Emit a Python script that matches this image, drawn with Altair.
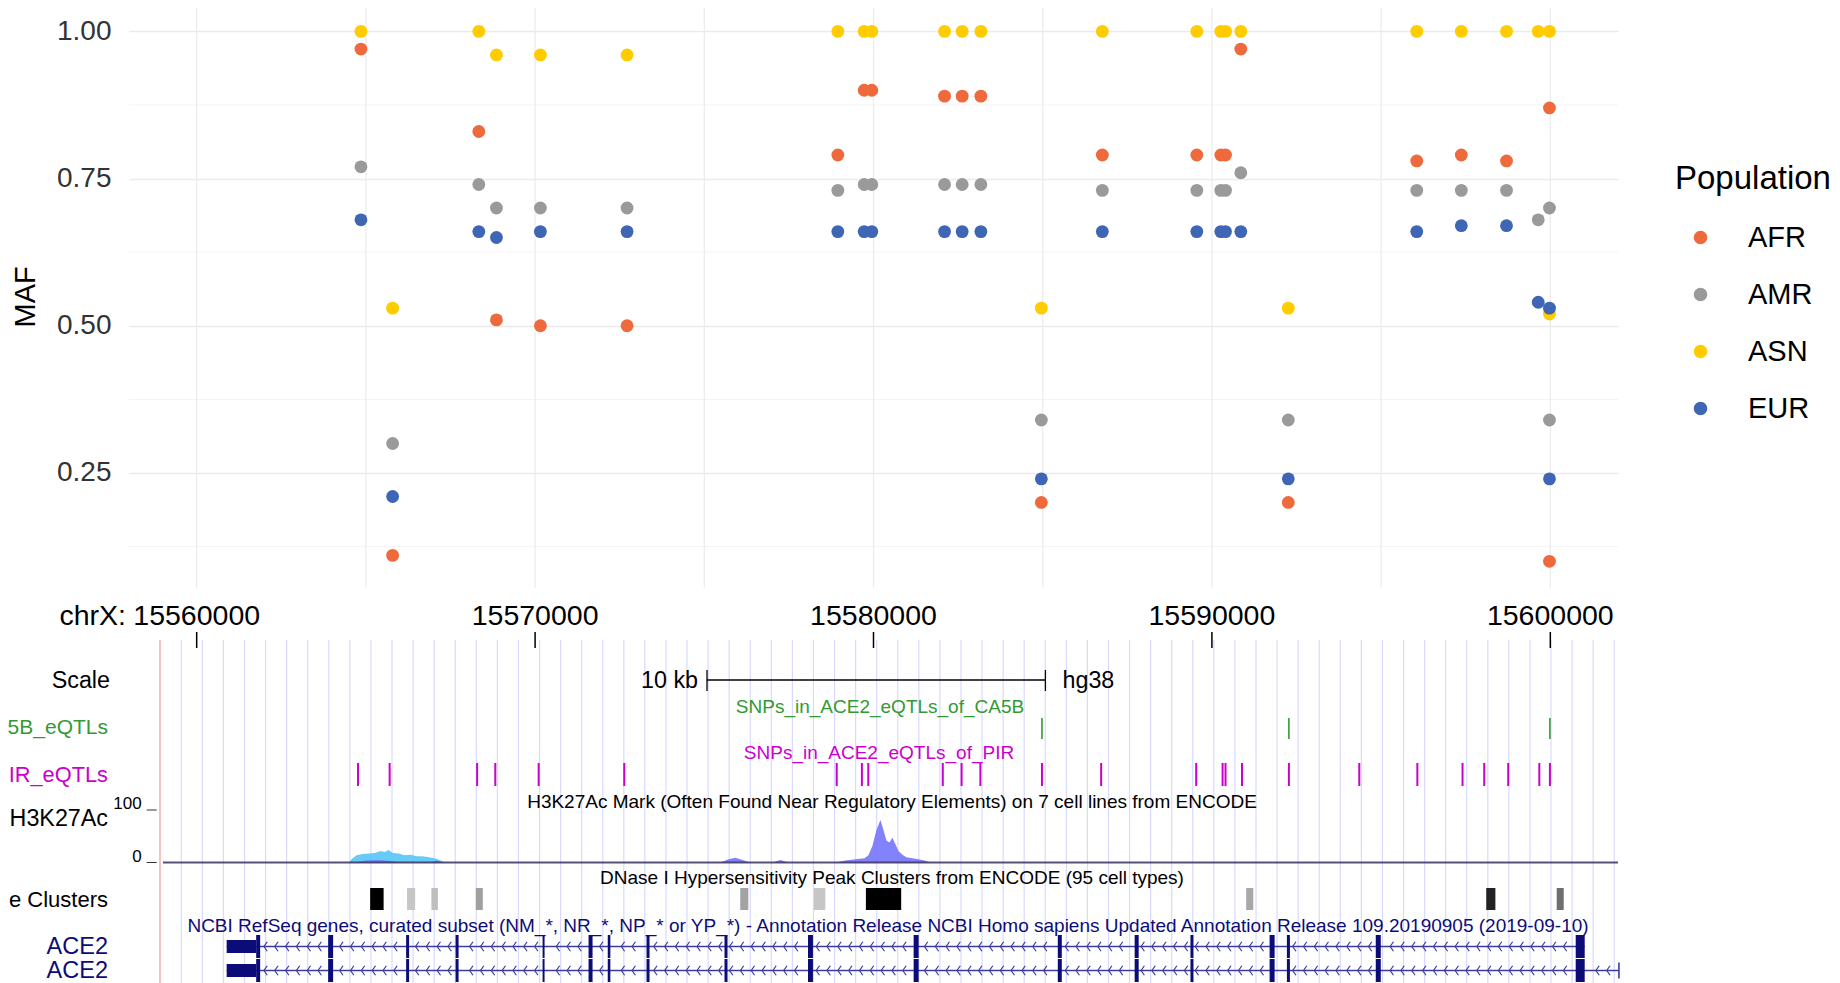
import altair as alt
import pandas as pd

FONT = "Liberation Sans"

# ---------------- top panel: minor allele frequency per population ----------------
populations = ["AFR", "AMR", "ASN", "EUR"]
pop_colors = ["#EE6A3C", "#9A9A9A", "#FFCC00", "#3E66B5"]

snp_pos = [15564854, 15565790, 15568337, 15568858, 15570157, 15572718,
           15578946, 15579725, 15579950, 15582100, 15582620, 15583173,
           15584960, 15586762, 15589554, 15590263, 15590402, 15590854,
           15592257, 15596053, 15597370, 15598706, 15599643, 15599975,
           15599975]
maf_afr = [0.97, 0.11, 0.83, 0.51, 0.50, 0.50, 0.79, 0.90, 0.90, 0.89, 0.89, 0.89,
           0.20, 0.79, 0.79, 0.79, 0.79, 0.97, 0.20, 0.78, 0.79, 0.78, None, 0.87, 0.10]
maf_amr = [0.77, 0.30, 0.74, 0.70, 0.70, 0.70, 0.73, 0.74, 0.74, 0.74, 0.74, 0.74,
           0.34, 0.73, 0.73, 0.73, 0.73, 0.76, 0.34, 0.73, 0.73, 0.73, 0.68, 0.70, 0.34]
maf_asn = [1.00, 0.53, 1.00, 0.96, 0.96, 0.96, 1.00, 1.00, 1.00, 1.00, 1.00, 1.00,
           0.53, 1.00, 1.00, 1.00, 1.00, 1.00, 0.53, 1.00, 1.00, 1.00, 1.00, 1.00, 0.52]
maf_eur = [0.68, 0.21, 0.66, 0.65, 0.66, 0.66, 0.66, 0.66, 0.66, 0.66, 0.66, 0.66,
           0.24, 0.66, 0.66, 0.66, 0.66, 0.66, 0.24, 0.66, 0.67, 0.67, 0.54, 0.53, 0.24]

maf_breaks = [0.25, 0.50, 0.75, 1.00]
maf_minor_breaks = [0.125, 0.375, 0.625, 0.875]
maf_limits = [0.055, 1.045]
x_limits = [15558000, 15602000]
x_major_breaks = [15560000, 15570000, 15580000, 15590000, 15600000]
x_minor_breaks = [15565000, 15575000, 15585000, 15595000]

# ---------------- bottom panel: genome browser tracks ----------------
ruler_ticks = [15560000, 15570000, 15580000, 15590000, 15600000]
scale_bar = [15575080, 15585080]
window_left = 15558916
ca5b_snps = [15584978, 15592275, 15599988]
pir_snps = [15564768, 15565702, 15568287, 15568824, 15570106, 15572635,
            15578913, 15579657, 15579846, 15582047, 15582603, 15583158,
            15584978, 15586727, 15589536, 15590316, 15590402, 15590889,
            15592275, 15594355, 15596071, 15597406, 15598047, 15598756,
            15599675, 15599988]

h3_axis_vals = [0, 100]
h3_cyan_pos = [15564490, 15564608, 15564726, 15564904, 15565081, 15565258,
               15565435, 15565554, 15565672, 15565790, 15565967, 15566144,
               15566322, 15566499, 15566676, 15566853, 15567031, 15567208,
               15567326]
h3_cyan_val = [0, 8, 14, 16, 17, 18, 22, 20, 24, 18, 17, 14, 15, 12, 12, 10, 8, 4, 0]
h3_purple_pos = [15564697, 15564992, 15565376, 15565731, 15566026, 15566912,
                 15567090, 15567267, 15575479, 15575715, 15575922, 15576129,
                 15576365, 15577015, 15577251, 15577488, 15578876, 15579171,
                 15579467, 15579733, 15579851, 15579969, 15580087, 15580205,
                 15580294, 15580383, 15580471, 15580560, 15580648, 15580737,
                 15580855, 15580973, 15581151, 15581328, 15581505, 15581682]
h3_purple_val = [0, 4, 5, 3, 0, 0, 4, 0, 0, 6, 9, 5, 0, 0, 5, 0, 0, 4,
                 6, 8, 14, 32, 62, 81, 62, 42, 38, 47, 35, 22, 15, 10, 8, 6, 4, 0]

dnase_start = [15565126, 15566216, 15566936, 15568248, 15576062, 15578239,
               15579775, 15591013, 15598106, 15600189]
dnase_end = [15565524, 15566455, 15567128, 15568455, 15576301, 15578576,
             15580818, 15591223, 15598377, 15600396]
dnase_score = [1000, 200, 230, 340, 330, 200, 1000, 310, 870, 530]

gene_names = ["ACE2", "ACE2"]
gene_start = [15560886, 15560886]
gene_end = [15601016, 15602028]
utr_start = [15560886]
utr_end = [15561758]
exon_start = [15561758, 15563885, 15566189, 15567651, 15570221, 15571580,
              15572147, 15573293, 15575597, 15578064, 15581186, 15585446,
              15587717, 15589366, 15591705, 15592216, 15594842, 15600750]
exon_end = [15561876, 15564032, 15566277, 15567739, 15570280, 15571698,
            15572224, 15573382, 15575686, 15578211, 15581334, 15585564,
            15587836, 15589454, 15591853, 15592305, 15594990, 15601016]

# ---------------- layout (pixels, plot-area coordinates) ----------------
W, H = 1489, 975
MAF_RANGE = [579.8, -3.1]
SIG_RANGE = [854.5, 802.0]
ROW_Y = [938.5, 962.5]

xscale = alt.Scale(domain=x_limits, nice=False, zero=False)


def xenc(field):
    return alt.X(f"{field}:Q", scale=xscale, axis=None)


def text_layer(txt, x, y, size, color="black", align="center", baseline="middle"):
    return alt.Chart(pd.DataFrame({"t": [txt]})).mark_text(
        font=FONT, fontSize=size, color=color, align=align, baseline=baseline
    ).encode(x=alt.value(x), y=alt.value(y), text="t:N")


# ---- top panel ----
rows = []
for pop, vals in zip(populations, [maf_afr, maf_amr, maf_asn, maf_eur]):
    for p, v in zip(snp_pos, vals):
        if v is not None:
            rows.append({"pos": p, "maf": v, "pop": pop})
points_df = pd.DataFrame(rows)

maf_scale = alt.Scale(domain=maf_limits, range=MAF_RANGE, nice=False, zero=False)
maf_axis = alt.Axis(values=maf_breaks, format=".2f", ticks=False, domain=False,
                    labelFont=FONT, labelFontSize=28, labelColor="#333333",
                    labelPadding=18, grid=True, gridColor="#EBEBEB", gridWidth=1.3,
                    title="MAF", titleFont=FONT, titleFontSize=29,
                    titleFontWeight="normal", titleColor="black", titlePadding=16)

minor_h = alt.Chart(pd.DataFrame({"m": maf_minor_breaks})).mark_rule(
    color="#F3F3F3", strokeWidth=1).encode(
    y=alt.Y("m:Q", scale=maf_scale, axis=maf_axis),
    x=alt.value(0), x2=alt.value(W))

vgrid = alt.Chart(pd.DataFrame({"g": x_major_breaks + x_minor_breaks})).mark_rule(
    color="#EBEBEB", strokeWidth=1.2).encode(
    x=xenc("g"), y=alt.value(MAF_RANGE[1]), y2=alt.value(MAF_RANGE[0]))

pts = alt.Chart(points_df).mark_circle(size=165, opacity=1).encode(
    x=xenc("pos"),
    y=alt.Y("maf:Q", scale=maf_scale, axis=maf_axis),
    color=alt.Color("pop:N", scale=alt.Scale(domain=populations, range=pop_colors),
                    legend=alt.Legend(orient="none", legendX=1546, legendY=155,
                                      title="Population", titleFont=FONT,
                                      titleFontSize=33, titleFontWeight="normal",
                                      titleColor="black", labelFont=FONT,
                                      labelFontSize=29, labelColor="black",
                                      symbolSize=185, symbolType="circle",
                                      rowPadding=27, titlePadding=27,
                                      symbolOffset=11, labelOffset=33, padding=0)),
)
top = alt.layer(minor_h, vgrid, pts)

# ---- browser panel ----
guide_pos = [15559545 + i * 622.7 for i in range(69)]
guides = alt.Chart(pd.DataFrame({"g": guide_pos})).mark_rule(
    color="#D9D9FF", strokeWidth=1.2).encode(
    x=xenc("g"), y=alt.value(632), y2=alt.value(H))
pink = alt.Chart(pd.DataFrame({"g": [window_left]})).mark_rule(
    color="#F2B0B0", strokeWidth=1.5).encode(
    x=xenc("g"), y=alt.value(632), y2=alt.value(H))

ruler_df = pd.DataFrame({"pos": ruler_ticks, "lab": [str(v) for v in ruler_ticks]})
ruler_txt = alt.Chart(ruler_df).mark_text(font=FONT, fontSize=28.5, baseline="alphabetic",
                                          color="black").encode(
    x=xenc("pos"), y=alt.value(617), text="lab:N")
ruler_tk = alt.Chart(ruler_df).mark_rule(color="black", strokeWidth=1.5).encode(
    x=xenc("pos"), y=alt.value(624), y2=alt.value(640))

sb_df = pd.DataFrame({"s": [scale_bar[0]], "e": [scale_bar[1]]})
sb_line = alt.Chart(sb_df).mark_rule(color="black", strokeWidth=1.3).encode(
    x=xenc("s"), x2="e:Q", y=alt.value(672))
sb_ends = alt.Chart(pd.DataFrame({"p": scale_bar})).mark_rule(
    color="black", strokeWidth=1.3).encode(x=xenc("p"), y=alt.value(662), y2=alt.value(683))

ca5b = alt.Chart(pd.DataFrame({"p": ca5b_snps})).mark_rule(
    color="#339933", strokeWidth=1.6).encode(x=xenc("p"), y=alt.value(710), y2=alt.value(731))
pir = alt.Chart(pd.DataFrame({"p": pir_snps})).mark_rule(
    color="#CC00CC", strokeWidth=2).encode(x=xenc("p"), y=alt.value(755), y2=alt.value(778))

sig_scale = alt.Scale(domain=[0, 100], range=SIG_RANGE, nice=False, zero=False)
cyan = alt.Chart(pd.DataFrame({"p": h3_cyan_pos, "v": h3_cyan_val})).mark_area(
    color="#5EC8F5", opacity=0.95).encode(
    x=xenc("p"), y=alt.Y("v:Q", scale=sig_scale, axis=None))
purple = alt.Chart(pd.DataFrame({"p": h3_purple_pos, "v": h3_purple_val})).mark_area(
    color="#7474FA", opacity=0.9).encode(
    x=xenc("p"), y=alt.Y("v:Q", scale=sig_scale, axis=None))
sig_base = alt.Chart(pd.DataFrame({"v": [0]})).mark_rule(
    color="#3A3060", strokeWidth=2, opacity=0.85).encode(
    y=alt.Y("v:Q", scale=sig_scale, axis=None), x=alt.value(34), x2=alt.value(W))
sig_lab = alt.Chart(pd.DataFrame({"v": h3_axis_vals, "l": [str(v) for v in h3_axis_vals]})).mark_text(
    font=FONT, fontSize=17, align="right", baseline="alphabetic", dy=-1, color="black").encode(
    y=alt.Y("v:Q", scale=sig_scale, axis=None), x=alt.value(12.7), text="l:N")
sig_tk = alt.Chart(pd.DataFrame({"v": h3_axis_vals})).mark_rule(
    color="#333333", strokeWidth=1).encode(
    y=alt.Y("v:Q", scale=sig_scale, axis=None), x=alt.value(17.7), x2=alt.value(27.7))
signal = alt.layer(cyan, purple, sig_base, sig_lab, sig_tk)

dnase = alt.Chart(pd.DataFrame({"s": dnase_start, "e": dnase_end, "score": dnase_score})).mark_rect().encode(
    x=xenc("s"), x2="e:Q", y=alt.value(880), y2=alt.value(902),
    color=alt.Color("score:Q", scale=alt.Scale(domain=[0, 1000], range=["#ffffff", "#000000"]),
                    legend=None))

# gene model rows
gene_layers = []
chev_path = "M0.35,-1L-0.35,0L0.35,1"
for r in range(2):
    yc = ROW_Y[r]
    gene_layers.append(alt.Chart(pd.DataFrame({"s": [gene_start[r]], "e": [gene_end[r]]})).mark_rule(
        color="#3C3C9C", strokeWidth=1.6).encode(x=xenc("s"), x2="e:Q", y=alt.value(yc)))
    chev = []
    p = exon_end[0] + 160
    while p < gene_end[r] - 120:
        if all(not (s - 100 <= p <= e + 100) for s, e in zip(exon_start, exon_end)):
            chev.append(p)
        p += 320
    gene_layers.append(alt.Chart(pd.DataFrame({"p": chev})).mark_point(
        shape=chev_path, filled=False, size=90, strokeWidth=1.2, color="#3C3C9C", opacity=1).encode(
        x=xenc("p"), y=alt.value(yc)))
    gene_layers.append(alt.Chart(pd.DataFrame({"s": utr_start, "e": utr_end})).mark_rect(
        color="#0C0C78").encode(x=xenc("s"), x2="e:Q", y=alt.value(yc - 6.5), y2=alt.value(yc + 6.5)))
    gene_layers.append(alt.Chart(pd.DataFrame({"s": exon_start, "e": exon_end})).mark_rect(
        color="#0C0C78").encode(x=xenc("s"), x2="e:Q", y=alt.value(yc - 11.5), y2=alt.value(yc + 11.5)))
    gene_layers.append(text_layer(gene_names[r], -21, yc, 23.5, "#0C0C78", align="right"))
gene_layers.append(alt.Chart(pd.DataFrame({"p": [gene_end[1]]})).mark_rule(
    color="#3C3C9C", strokeWidth=1.6).encode(x=xenc("p"), y=alt.value(ROW_Y[1] - 8), y2=alt.value(ROW_Y[1] + 8)))

texts = [
    text_layer("chrX:", -3, 617, 28.5, align="right", baseline="alphabetic"),
    text_layer("Scale", -19, 679.7, 23.3, align="right", baseline="alphabetic"),
    text_layer("10 kb", 569, 679.7, 23.3, align="right", baseline="alphabetic"),
    text_layer("hg38", 933.5, 679.7, 23.3, align="left", baseline="alphabetic"),
    text_layer("SNPs_in_ACE2_eQTLs_of_CA5B", 751, 698.5, 19, "#339933"),
    text_layer("5B_eQTLs", -21, 719.6, 21, "#339933", align="right"),
    text_layer("SNPs_in_ACE2_eQTLs_of_PIR", 750, 745.4, 19, "#CC00CC"),
    text_layer("IR_eQTLs", -21, 766.5, 21.8, "#CC00CC", align="right"),
    text_layer("H3K27Ac Mark (Often Found Near Regulatory Elements) on 7 cell lines from ENCODE",
               763, 793.5, 19),
    text_layer("H3K27Ac", -21, 811, 23.3, align="right"),
    text_layer("DNase I Hypersensitivity Peak Clusters from ENCODE (95 cell types)", 763, 869.8, 19),
    text_layer("e Clusters", -21, 892, 22, align="right"),
    text_layer("NCBI RefSeq genes, curated subset (NM_*, NR_*, NP_* or YP_*) - Annotation Release "
               "NCBI Homo sapiens Updated Annotation Release 109.20190905 (2019-09-10)",
               759, 918, 19, "#0C0C78"),
]

chart = alt.layer(
    guides, pink, top, ruler_tk, ruler_txt, sb_line, sb_ends, ca5b, pir, signal, dnase,
    *gene_layers, *texts
).resolve_scale(y="independent", color="independent").properties(
    width=W, height=H,
    padding={"left": 121, "top": 0, "right": 214, "bottom": 0},
    autosize=alt.AutoSizeParams(type="none"),
    background="white",
).configure_view(strokeWidth=0)

chart.save("out.html", embed_options={"renderer": "svg", "actions": False})
